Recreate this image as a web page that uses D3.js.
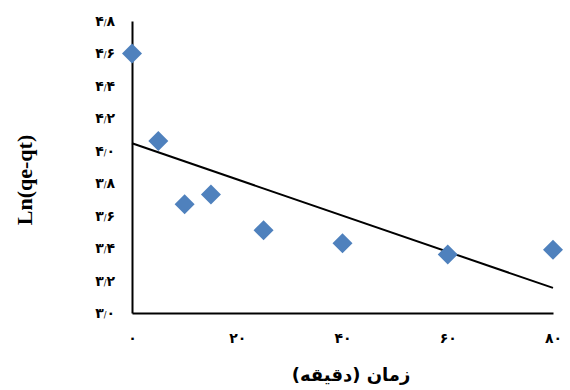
<!DOCTYPE html>
<html>
<head>
<meta charset="utf-8">
<script src="https://cdn.jsdelivr.net/npm/d3@7"></script>
<style>
  body { margin: 0; background: #fff; }
  svg { display: block; }
</style>
</head>
<body>
<svg id="chart" width="570" height="390"></svg>
<script>
// زمان (دقیقه) و Ln(qe-qt)
const times = [0, 5, 10, 15, 25, 40, 60, 80];
const lnValues = [4.60, 4.06, 3.67, 3.73, 3.51, 3.43, 3.36, 3.39];
const xTicks = [0, 20, 40, 60, 80];
const yTicks = [3.0, 3.2, 3.4, 3.6, 3.8, 4.0, 4.2, 4.4, 4.6, 4.8];

const width = 570, height = 390;
const plot = { left: 132, right: 553, top: 21, bottom: 313 };

const svg = d3.select("#chart");

const x = d3.scaleLinear().domain([0, 80]).range([plot.left, plot.right]);
const y = d3.scaleLinear().domain([3.0, 4.8]).range([plot.bottom, plot.top]);

// chiffres persans
const faDigits = "۰۱۲۳۴۵۶۷۸۹";
function toFa(s) {
    return s.replace(/[0-9]/g, c => faDigits[+c]);
}

const fontFa = "'DejaVu Sans', sans-serif";

// axe Y
const yAxis = svg.append("g")
    .attr("transform", `translate(${plot.left},0)`)
    .call(d3.axisLeft(y).tickValues(yTicks).tickSize(0).tickPadding(17)
        .tickFormat(d => toFa(d3.format(".1f")(d))));

// axe X
const xAxis = svg.append("g")
    .attr("transform", `translate(0,${plot.bottom})`)
    .call(d3.axisBottom(x).tickValues(xTicks).tickSize(0).tickPadding(20)
        .tickFormat(d => toFa(String(d))));

[yAxis, xAxis].forEach(ax => {
    ax.select(".domain").attr("stroke", "#000").attr("stroke-width", 2);
    ax.selectAll("text")
        .attr("font-family", fontFa)
        .attr("font-weight", "bold")
        .attr("font-size", 14)
        .attr("fill", "#000");
});

// séparateur décimal : petit trait oblique
yAxis.selectAll(".tick text").each(function () {
    const parts = d3.select(this).text().split(".");
    const t = d3.select(this).text(null);
    t.append("tspan").text(parts[0]);
    t.append("tspan").attr("font-size", 8).attr("font-weight", "normal").text("/");
    t.append("tspan").text(parts[1]);
});

// droite de tendance (moindres carrés)
const mx = d3.mean(times), my = d3.mean(lnValues);
let sxy = 0, sxx = 0;
times.forEach((t, i) => {
    sxy += (t - mx) * (lnValues[i] - my);
    sxx += (t - mx) * (t - mx);
});
const slope = sxy / sxx;
const intercept = my - slope * mx;

svg.append("line")
    .attr("x1", x(0)).attr("y1", y(intercept))
    .attr("x2", x(80)).attr("y2", y(intercept + slope * 80))
    .attr("stroke", "#000")
    .attr("stroke-width", 2);

// points
const diamond = d3.symbol().type(d3.symbolSquare).size(200);
svg.append("g")
    .selectAll("path")
    .data(times.map((t, i) => ({ t, v: lnValues[i] })))
    .join("path")
    .attr("d", diamond)
    .attr("transform", d => `translate(${x(d.t)},${y(d.v)}) rotate(45)`)
    .attr("fill", "#4F81BD");

// titres
svg.append("text")
    .attr("x", 351)
    .attr("y", 381)
    .attr("text-anchor", "middle")
    .attr("font-family", fontFa)
    .attr("font-weight", "bold")
    .attr("font-size", 18)
    .text("زمان (دقیقه)");

svg.append("text")
    .attr("transform", "translate(32,180) rotate(-90)")
    .attr("text-anchor", "middle")
    .attr("font-family", "'Liberation Serif', 'Times New Roman', serif")
    .attr("font-weight", "bold")
    .attr("font-size", 22)
    .text("Ln(qe-qt)");
</script>
</body>
</html>
